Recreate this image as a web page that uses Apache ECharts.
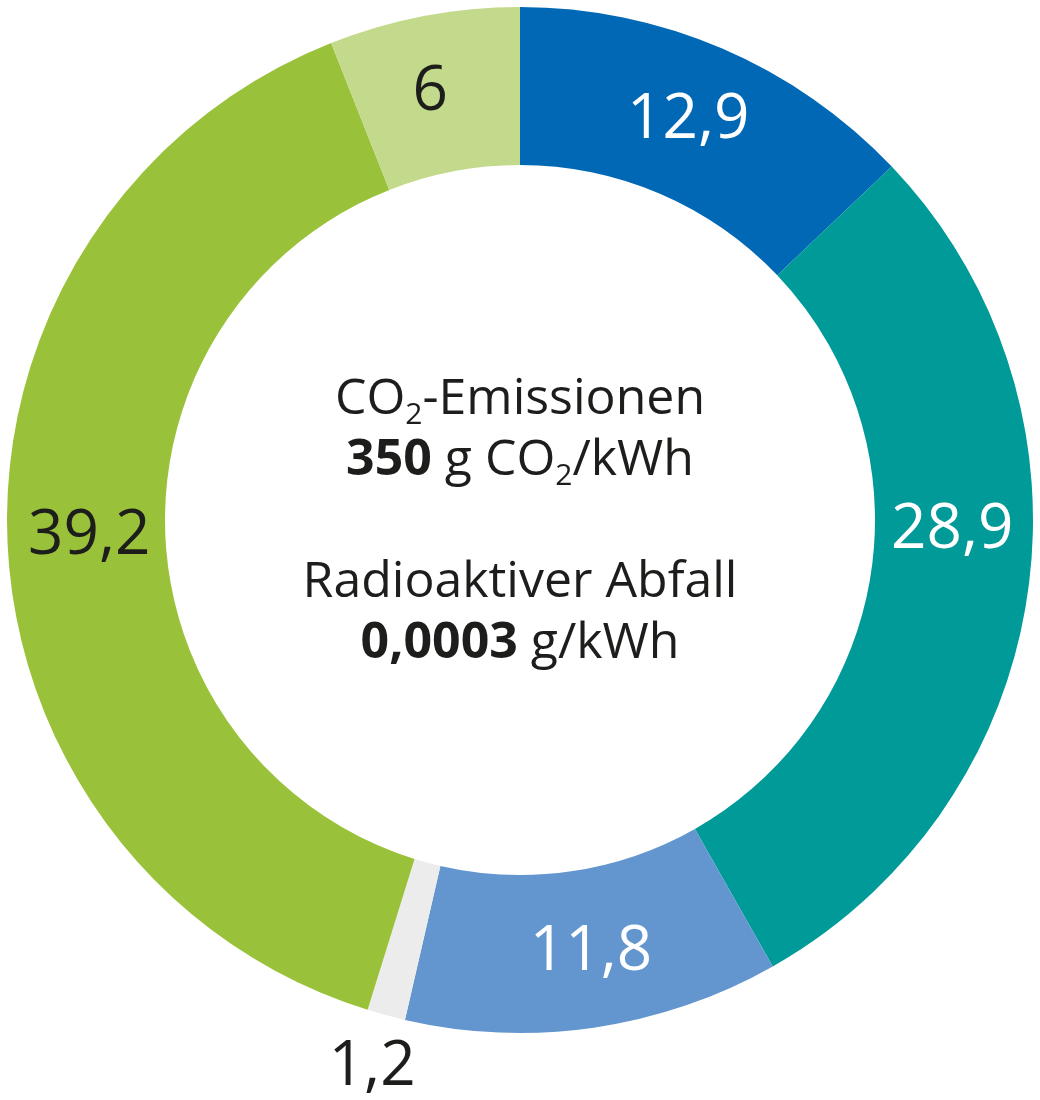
<!DOCTYPE html>
<html><head><meta charset="utf-8">
<script src="https://cdn.jsdelivr.net/npm/echarts@6/dist/echarts.min.js"></script>
<style>html,body{margin:0;padding:0;background:#fff}#c{width:1040px;height:1100px}</style>
</head><body><div id="c"></div>
<script>
const categories = ['S1', 'S2', 'S3', 'S4', 'S5', 'S6'];
const values = [12.9, 28.9, 11.8, 1.2, 39.2, 6];
const colors = ['#0068b4', '#009a99', '#6396cf', '#ececec', '#99c23a', '#c3d98b'];
const labelColors = ['#ffffff', '#ffffff', '#ffffff', '#1d1d1b', '#1d1d1b', '#1d1d1b'];
const outsideLabel = [false, false, false, true, false, false];
// small label nudges (px) to match the reference placement
const labelNudgeX = [-4, 0, 8, 0, 6, -8];
const labelNudgeY = [2, -54, 0, 0, 0, 2];

const fmt = v => String(v).replace('.', ',');
const FONT = '"Open Sans", "Noto Sans", sans-serif';

const chart = echarts.init(document.getElementById('c'), null, {renderer: 'canvas'});

const mainData = categories.map((c, i) => ({
  name: c, value: values[i],
  itemStyle: {color: colors[i]},
  label: {show: !outsideLabel[i], color: labelColors[i]}
}));
const outerData = categories.map((c, i) => ({
  name: c, value: values[i],
  itemStyle: {color: 'rgba(0,0,0,0)'},
  label: {show: outsideLabel[i], color: labelColors[i]}
}));

const labelBase = {
  position: 'inside',
  fontFamily: FONT,
  fontSize: 62,
  formatter: p => fmt(p.value)
};

chart.setOption({
  animation: false,
  series: [
    {
      type: 'pie',
      center: [520, 520],
      radius: [355, 513],
      startAngle: 90,
      clockwise: true,
      avoidLabelOverlap: false,
      silent: true,
      label: labelBase,
      labelLine: {show: false},
      labelLayout: p => ({dx: labelNudgeX[p.dataIndex], dy: labelNudgeY[p.dataIndex]}),
      data: mainData
    },
    {
      type: 'pie',
      center: [520, 520],
      radius: [514, 614],
      startAngle: 90,
      clockwise: true,
      avoidLabelOverlap: false,
      silent: true,
      label: labelBase,
      labelLine: {show: false},
      data: outerData
    }
  ],
  graphic: [{
    type: 'text',
    x: 520, y: 522,
    style: {
      text: '{n|CO}{s|2}{n|-Emissionen}\n{b|350}{n| g CO}{s|2}{n|/kWh}\n{n| }\n{n|Radioaktiver Abfall}\n{b|0,0003}{n| g/kWh}',
      align: 'center',
      verticalAlign: 'middle',
      fill: '#1d1d1b',
      rich: {
        n: {fontFamily: FONT, fontSize: 50, lineHeight: 61, fill: '#1d1d1b'},
        b: {fontFamily: FONT, fontSize: 50, lineHeight: 61, fontWeight: 'bold', fill: '#1d1d1b'},
        s: {fontFamily: FONT, fontSize: 30, lineHeight: 61, fill: '#1d1d1b', verticalAlign: 'bottom', padding: [18, 0, 0, 0]}
      }
    }
  }]
});
</script>
</body></html>
